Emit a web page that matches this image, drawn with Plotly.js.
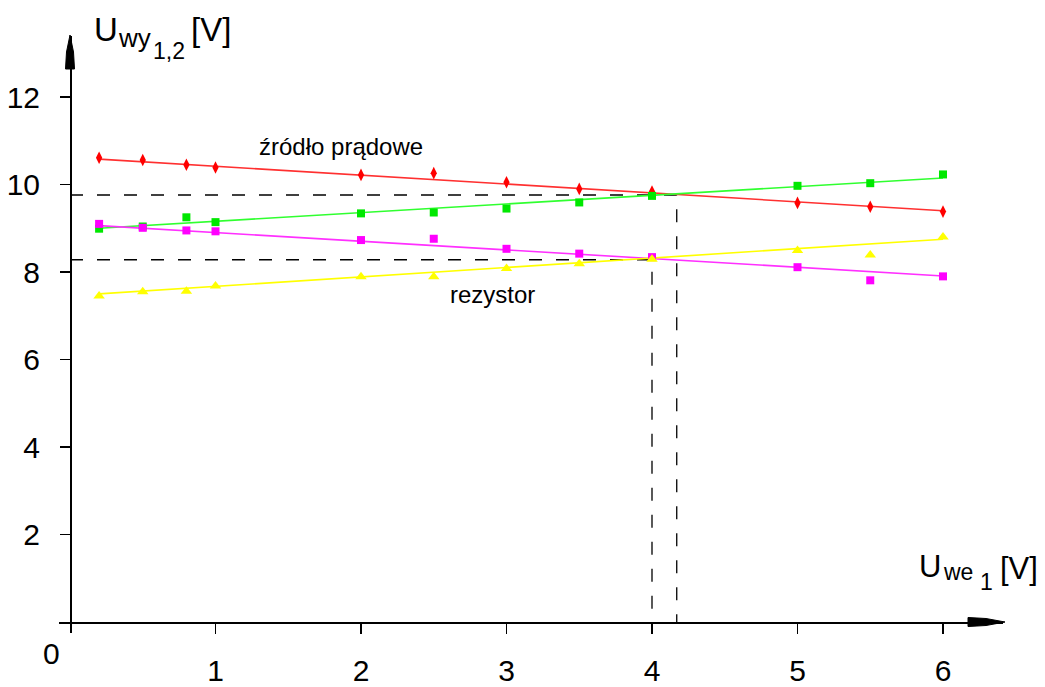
<!DOCTYPE html>
<html><head><meta charset="utf-8">
<script src="https://cdn.plot.ly/plotly-3.0.1.min.js"></script>
<style>html,body{margin:0;padding:0;background:#fff}#chart{width:1045px;height:687px}</style>
</head><body><div id="chart"></div>
<script>
// ---- data ----
const xVals = [0.2, 0.5, 0.8, 1, 2, 2.5, 3, 3.5, 4, 5, 5.5, 6];
const zrodloRed   = [10.61, 10.56, 10.45, 10.39, 10.22, 10.26, 10.05, 9.90, 9.84, 9.58, 9.49, 9.38];
const zrodloGreen = [8.99, 9.04, 9.25, 9.14, 9.34, 9.36, 9.45, 9.59, 9.74, 9.97, 10.03, 10.23];
const rezMagenta  = [9.10, 9.01, 8.95, 8.93, 8.73, 8.76, 8.53, 8.42, 8.34, 8.11, 7.81, 7.90];
const rezYellow   = [7.45, 7.55, 7.56, 7.68, 7.89, 7.89, 8.08, 8.19, 8.29, 8.49, 8.39, 8.80];
const fitX = [0.2, 6];
const fitRed = [10.58, 9.40];
const fitGreen = [9.00, 10.15];
const fitMagenta = [9.06, 7.91];
const fitYellow = [7.50, 8.75];
const crossX = [4.0, 4.17];
const crossY = [8.28, 9.76];
const xTicks = [1, 2, 3, 4, 5, 6];
const yTicks = [2, 4, 6, 8, 10, 12];

// ---- layout geometry ----
const W = 1045, H = 687, L = 59, R = 42, T = 36, B = 54;
const PW = W - L - R, PH = H - T - B;
const sx = 145.5, sy = 43.75, ox = 70, oy = 622;
const xr = [(L - ox) / sx, (W - R - ox) / sx];
const yr = [(oy - (H - B)) / sy, (oy - T) / sy];
const fx = p => (p - L) / PW;
const fy = p => (H - B - p) / PH;
const FONT = 'Liberation Sans, Arial, sans-serif';

const dash = '13px,14px';
const traces = [
  {x: [0, crossX[1], crossX[1]], y: [crossY[1], crossY[1], 0], mode: 'lines', line: {color: '#000', width: 1.3, dash: dash}, hoverinfo: 'skip'},
  {x: [0, crossX[0], crossX[0]], y: [crossY[0], crossY[0], 0], mode: 'lines', line: {color: '#000', width: 1.3, dash: dash}, hoverinfo: 'skip'},
  {x: fitX, y: fitRed, mode: 'lines', line: {color: '#ff3030', width: 1.6}},
  {x: fitX, y: fitGreen, mode: 'lines', line: {color: '#30ff30', width: 1.6}},
  {x: fitX, y: fitMagenta, mode: 'lines', line: {color: '#ff30ff', width: 1.6}},
  {x: fitX, y: fitYellow, mode: 'lines', line: {color: '#ffff00', width: 1.6}},
  {x: xVals, y: zrodloRed, mode: 'markers', marker: {symbol: 'diamond-tall', size: 9, color: '#ff0000'}},
  {x: xVals, y: zrodloGreen, mode: 'markers', marker: {symbol: 'square', size: 8, color: '#00e800'}},
  {x: xVals, y: rezMagenta, mode: 'markers', marker: {symbol: 'square', size: 8, color: '#ff00ff'}},
  {x: xVals, y: rezYellow, mode: 'markers', marker: {symbol: 'triangle-up', size: 10, color: '#ffff00'}}
];

function ann(text, px, py, size, xanchor) {
  return {text: text, xref: 'paper', yref: 'paper', x: fx(px), y: fy(py), showarrow: false,
    xanchor: xanchor || 'center', yanchor: 'middle', font: {family: FONT, size: size, color: '#000'}};
}

const layout = {
  width: W, height: H,
  margin: {l: L, r: R, t: T, b: B, pad: 0},
  paper_bgcolor: '#fff', plot_bgcolor: '#fff',
  showlegend: false,
  xaxis: {range: xr, anchor: 'free', position: (0 - yr[0]) / (yr[1] - yr[0]),
    showline: true, linecolor: '#000', linewidth: 1.5, ticks: 'outside', ticklen: 10, tickwidth: 1.5, tickcolor: '#000',
    tickvals: xTicks, ticktext: xTicks.map(String), tickfont: {family: FONT, size: 30, color: '#000'},
    ticklabelstandoff: 11, showgrid: false, zeroline: false, fixedrange: true},
  yaxis: {range: yr, anchor: 'free', position: (0 - xr[0]) / (xr[1] - xr[0]),
    showline: true, linecolor: '#000', linewidth: 1.5, ticks: 'outside', ticklen: 10, tickwidth: 1.5, tickcolor: '#000',
    tickvals: yTicks, ticktext: yTicks.map(String), tickfont: {family: FONT, size: 30, color: '#000'},
    ticklabelstandoff: 14, showgrid: false, zeroline: false, fixedrange: true},
  shapes: [
    {type: 'path', xref: 'paper', yref: 'paper', fillcolor: '#000', line: {color: '#000', width: 1},
     path: `M ${fx(968)} ${fy(617.5)} L ${fx(986)} ${fy(618.5)} L ${fx(1005)} ${fy(622)} L ${fx(986)} ${fy(625.5)} L ${fx(968)} ${fy(626.5)} Z`},
    {type: 'path', xref: 'paper', yref: 'paper', fillcolor: '#000', line: {color: '#000', width: 1},
     path: `M ${fx(65.5)} ${fy(69)} L ${fx(66.5)} ${fy(52)} L ${fx(70)} ${fy(35)} L ${fx(73.5)} ${fy(52)} L ${fx(74.5)} ${fy(69)} Z`}
  ],
  annotations: [
    ann('źródło prądowe', 341, 146, 24),
    ann('rezystor', 492, 294, 24),
    ann('0', 51, 653, 30),
    ann('U', 106, 30, 33),
    ann('wy', 134, 38, 26),
    ann('1,2', 169, 51, 23),
    ann('[V]', 211, 30, 33),
    ann('U', 930, 566, 31),
    ann('we', 958, 572, 23),
    ann('1', 986, 582, 23),
    ann('[V]', 1019, 568, 31)
  ]
};

Plotly.newPlot('chart', traces, layout, {staticPlot: true, displayModeBar: false});
</script>
</body></html>
